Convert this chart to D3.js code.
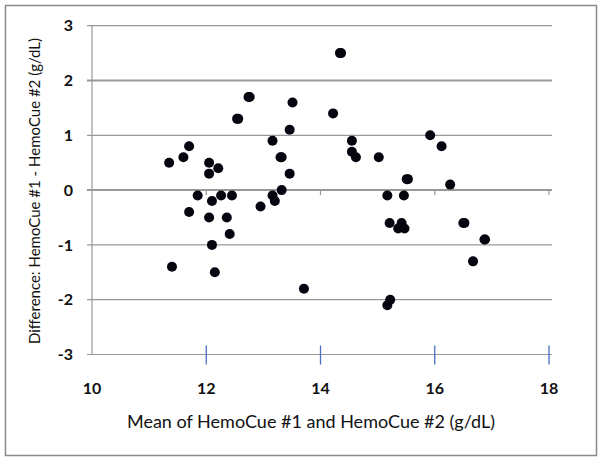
<!DOCTYPE html>
<html>
<head>
<meta charset="utf-8">
<script src="https://cdn.jsdelivr.net/npm/d3@7"></script>
<style>
  body { margin: 0; background: #fff; }
  svg { display: block; font-family: Lato, "Open Sans", sans-serif; }
</style>
</head>
<body>
<div class="chart"></div>
<script>
// mean of the two readings (g/dL)
var meanVals = [11.35, 11.4, 11.6, 11.7, 11.7, 11.85, 12.05, 12.05, 12.05, 12.1,
  12.1, 12.15, 12.21, 12.26, 12.36, 12.41, 12.45, 12.56, 12.54, 12.76,
  12.74, 12.95, 13.16, 13.16, 13.2, 13.32, 13.3, 13.32, 13.46, 13.46,
  13.51, 13.71, 14.22, 14.36, 14.34, 14.55, 14.55, 14.62, 15.02, 15.17,
  15.17, 15.22, 15.21, 15.36, 15.42, 15.46, 15.47, 15.53, 15.51, 15.92,
  16.12, 16.27, 16.52, 16.5, 16.67, 16.88, 16.87];
// difference HemoCue #1 - HemoCue #2 (g/dL)
var diffVals = [0.5, -1.4, 0.6, 0.8, -0.4, -0.1, 0.5, 0.3, -0.5, -0.2,
  -1.0, -1.5, 0.4, -0.1, -0.5, -0.8, -0.1, 1.3, 1.3, 1.7,
  1.7, -0.3, 0.9, -0.1, -0.2, 0.6, 0.6, 0.0, 1.1, 0.3,
  1.6, -1.8, 1.4, 2.5, 2.5, 0.9, 0.7, 0.6, 0.6, -0.1,
  -2.1, -2.0, -0.6, -0.7, -0.6, -0.1, -0.7, 0.2, 0.2, 1.0,
  0.8, 0.1, -0.6, -0.6, -1.3, -0.9, -0.9];

var xTicks = [10, 12, 14, 16, 18];
var yTicks = [-3, -2, -1, 0, 1, 2, 3];

var svgWidth = 604;
var svgHeight = 461;

var points = meanVals.map(function (m, i) {
  return { mean: m, diff: diffVals[i] };
});

var svg = d3.select(".chart")
  .append("svg")
  .attr("width", svgWidth)
  .attr("height", svgHeight);

// outer frame
svg.append("rect")
  .attr("x", 5.5)
  .attr("y", 5.5)
  .attr("width", 591)
  .attr("height", 450)
  .attr("fill", "none")
  .attr("stroke", "#8a8a8a")
  .attr("stroke-width", 1.5);

var x = d3.scaleLinear().domain([10, 18]).range([92, 549]);
var y = d3.scaleLinear().domain([-3, 3]).range([354.5, 25.7]);

var gridColor = "#999";

// horizontal gridlines (with small tick stubs left of the axis)
svg.append("g")
  .selectAll("line")
  .data(yTicks)
  .enter()
  .append("line")
  .attr("x1", x(10) - 5)
  .attr("x2", 552)
  .attr("y1", d => y(d))
  .attr("y2", d => y(d))
  .attr("stroke", gridColor)
  .attr("stroke-width", d => (d === 2 || d === 0) ? 2 : 1.2);

// vertical axis line
svg.append("line")
  .attr("x1", x(10))
  .attr("x2", x(10))
  .attr("y1", y(3))
  .attr("y2", y(-3))
  .attr("stroke", gridColor)
  .attr("stroke-width", 1.2);

// small gray ticks under the zero line
svg.append("g")
  .selectAll("line")
  .data(xTicks.slice(1))
  .enter()
  .append("line")
  .attr("x1", d => x(d))
  .attr("x2", d => x(d))
  .attr("y1", y(0))
  .attr("y2", y(0) + 5)
  .attr("stroke", gridColor)
  .attr("stroke-width", 1.2);

// blue ticks on the bottom line
svg.append("g")
  .selectAll("line")
  .data(xTicks.slice(1))
  .enter()
  .append("line")
  .attr("x1", d => x(d))
  .attr("x2", d => x(d))
  .attr("y1", y(-3) - 9)
  .attr("y2", y(-3) + 10)
  .attr("stroke", "#4a6fc4")
  .attr("stroke-width", 1.3);

// y tick labels
svg.append("g")
  .selectAll("text")
  .data(yTicks)
  .enter()
  .append("text")
  .attr("x", 73)
  .attr("y", d => y(d))
  .attr("dy", "0.36em")
  .attr("text-anchor", "end")
  .attr("font-size", 16)
  .attr("font-weight", "bold")
  .attr("fill", "#111")
  .text(d => d);

// x tick labels
svg.append("g")
  .selectAll("text")
  .data(xTicks)
  .enter()
  .append("text")
  .attr("x", d => x(d))
  .attr("y", 394)
  .attr("text-anchor", "middle")
  .attr("font-size", 16)
  .attr("font-weight", "bold")
  .attr("fill", "#111")
  .text(d => d);

// points
svg.append("g")
  .selectAll("circle")
  .data(points)
  .enter()
  .append("circle")
  .attr("cx", d => x(d.mean))
  .attr("cy", d => y(d.diff))
  .attr("r", 5)
  .attr("fill", "#050510");

// axis titles
svg.append("text")
  .attr("x", 311)
  .attr("y", 428)
  .attr("text-anchor", "middle")
  .attr("font-size", 18)
  .attr("fill", "#111")
  .text("Mean of HemoCue #1 and HemoCue #2 (g/dL)");

svg.append("text")
  .attr("transform", "translate(40, 191) rotate(-90)")
  .attr("text-anchor", "middle")
  .attr("font-size", 15)
  .attr("fill", "#111")
  .text("Difference: HemoCue #1 - HemoCue #2 (g/dL)");
</script>
</body>
</html>
